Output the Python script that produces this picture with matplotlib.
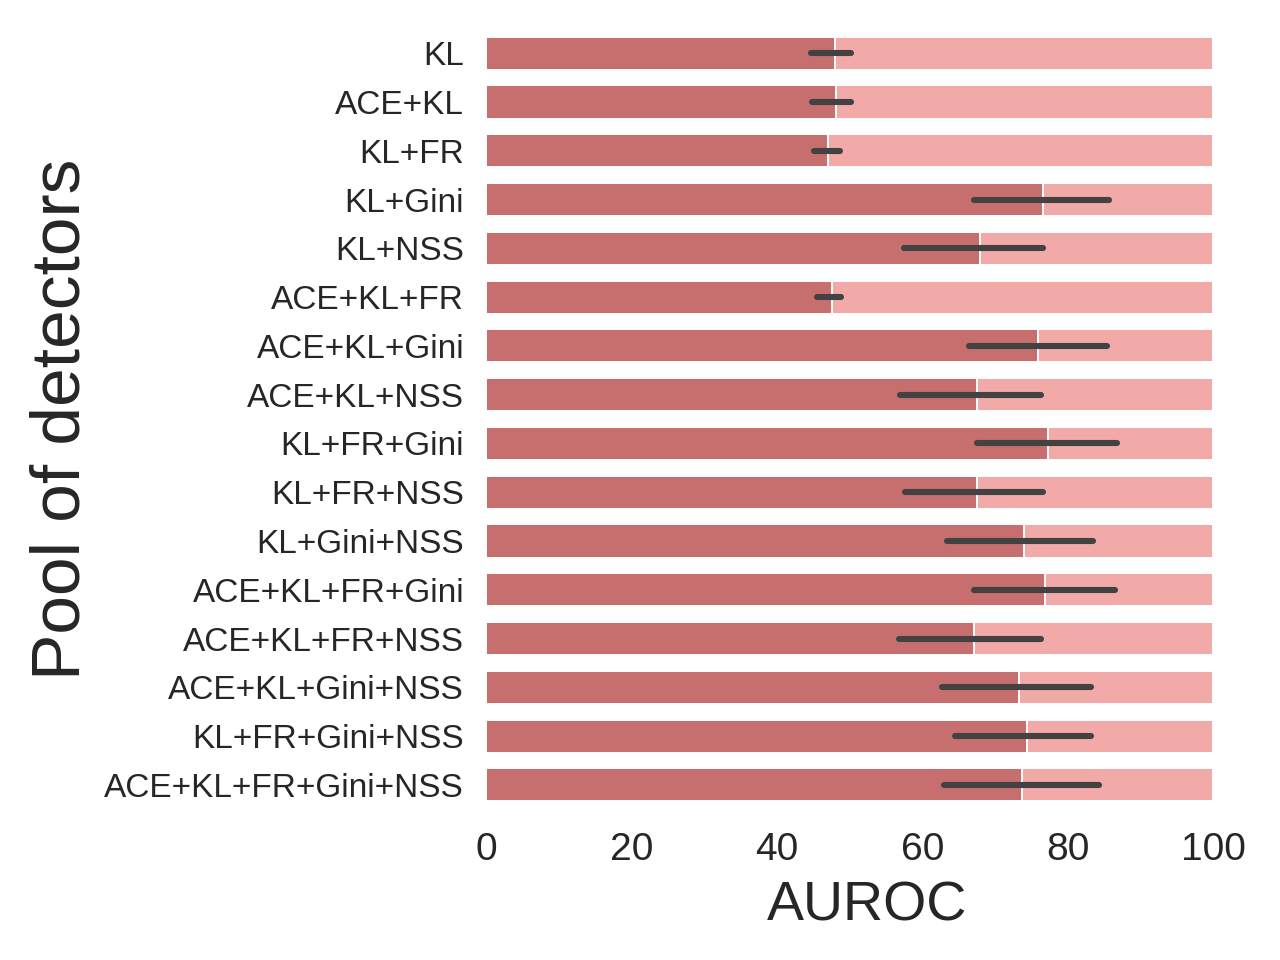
import matplotlib
matplotlib.use("Agg")
from matplotlib import pyplot as plt
import numpy as np

# detector pools, top to bottom
pools = ["KL", "ACE+KL", "KL+FR", "KL+Gini", "KL+NSS", "ACE+KL+FR",
         "ACE+KL+Gini", "ACE+KL+NSS", "KL+FR+Gini", "KL+FR+NSS",
         "KL+Gini+NSS", "ACE+KL+FR+Gini", "ACE+KL+FR+NSS",
         "ACE+KL+Gini+NSS", "KL+FR+Gini+NSS", "ACE+KL+FR+Gini+NSS"]

# mean AUROC and confidence interval bounds
auroc = [47.9, 48.1, 47.0, 76.5, 67.9, 47.5, 75.9, 67.5, 77.2, 67.5,
         73.9, 76.8, 67.1, 73.2, 74.3, 73.6]
ci_low = [44.7, 44.8, 45.1, 67.1, 57.5, 45.5, 66.4, 56.9, 67.5, 57.6,
          63.3, 67.1, 56.7, 62.7, 64.4, 62.9]
ci_high = [50.1, 50.2, 48.6, 85.7, 76.5, 48.8, 85.4, 76.3, 86.7, 76.5,
           83.5, 86.4, 76.3, 83.2, 83.2, 84.3]
full = [100] * len(pools)

plt.rcParams["font.family"] = ["Liberation Sans", "DejaVu Sans"]
text_col = "#262626"

fig = plt.figure(figsize=(6.4, 4.8), dpi=200)
ax = fig.add_axes([0.380, 0.157, 0.568, 0.813])

y = np.arange(len(pools))
ax.barh(y, full, height=0.68, color="#f2aaa8", edgecolor="white", linewidth=0.7)
ax.barh(y, auroc, height=0.68, color="#c76f6e", edgecolor="white", linewidth=0.7)
for i in range(len(pools)):
    ax.plot([ci_low[i], ci_high[i]], [y[i], y[i]], color="#424242",
            linewidth=2.2, solid_capstyle="round", zorder=3)

ax.set_xlim(0, 100)
ax.set_ylim(len(pools) - 0.5, -0.5)
ax.set_yticks(y)
ax.set_yticklabels(pools, fontsize=12, color=text_col)
ax.set_xticks([0, 20, 40, 60, 80, 100])
ax.tick_params(axis="x", labelsize=14, colors=text_col, length=0, pad=8)
ax.tick_params(axis="y", length=0, pad=8)
ax.set_xlabel("AUROC", fontsize=20, color=text_col, labelpad=4.5)
ax.xaxis.label.set_x(0.524)
ax.set_ylabel("Pool of detectors", fontsize=25, color=text_col, labelpad=4)
for s in ax.spines.values():
    s.set_visible(False)

fig.savefig("out.png", dpi=200)
